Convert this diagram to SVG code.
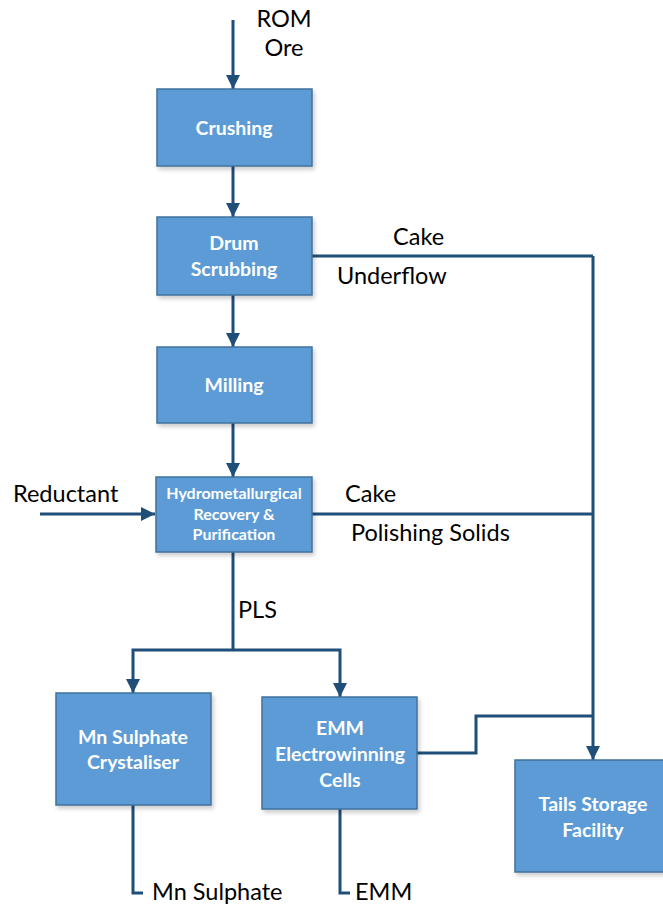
<svg xmlns="http://www.w3.org/2000/svg" width="663" height="907" viewBox="0 0 663 907">
<defs>
<marker id="ah" markerWidth="14" markerHeight="14" viewBox="0 0 14 14" refX="14" refY="7" orient="auto" markerUnits="userSpaceOnUse">
<path d="M0,0 L14,7 L0,14 Z" fill="#1F4E79"/>
</marker>
<filter id="sh" x="-10%" y="-10%" width="130%" height="130%">
<feDropShadow dx="2" dy="3" stdDeviation="2" flood-color="#000" flood-opacity="0.2"/>
</filter>
</defs>
<style>
.box{fill:#5B9BD5;stroke:#41719C;stroke-width:1.5;filter:url(#sh)}
.bt{font-family:Lato,"Open Sans",sans-serif;font-weight:bold;fill:#fff;text-anchor:middle;font-size:19.5px}
.bt.hs{font-size:16px}
.lb{font-family:Lato,"Open Sans",sans-serif;fill:#000;font-size:23.5px}
.c{fill:none;stroke:#1F4E79;stroke-width:3}
.a{marker-end:url(#ah)}
</style>
<g id="connectors">
<line class="c a" x1="233" y1="20" x2="233" y2="89"/>
<line class="c a" x1="233" y1="166" x2="233" y2="217"/>
<line class="c a" x1="233" y1="295" x2="233" y2="347"/>
<line class="c a" x1="233" y1="423" x2="233" y2="477"/>
<line class="c a" x1="40" y1="514" x2="155" y2="514"/>
<polyline class="c" points="312,256 593,256"/>
<polyline class="c" points="312,514 593,514"/>
<line class="c a" x1="593" y1="256" x2="593" y2="760"/>
<polyline class="c" points="233,552 233,650"/>
<polyline class="c a" points="233,650 133,650 133,693"/>
<polyline class="c a" points="233,650 340,650 340,697"/>
<polyline class="c" points="417,753 476,753 476,716 593,716"/>
<polyline class="c" points="133,805 133,893 143,893"/>
<polyline class="c" points="340,809 340,893 350,893"/>
</g>
<g id="crushing">
<rect class="box" x="157" y="89" width="155" height="77"/>
<text class="bt" x="234" y="135">Crushing</text>
</g>
<g id="drum">
<rect class="box" x="157" y="217" width="155" height="78"/>
<text class="bt" x="234" y="250">Drum</text>
<text class="bt" x="234" y="276">Scrubbing</text>
</g>
<g id="milling">
<rect class="box" x="157" y="347" width="155" height="76"/>
<text class="bt" x="234" y="392">Milling</text>
</g>
<g id="hydro">
<rect class="box" x="156" y="477" width="156" height="75"/>
<text class="bt hs" x="234" y="499">Hydrometallurgical</text>
<text class="bt hs" x="234" y="520">Recovery &amp;</text>
<text class="bt hs" x="234" y="540">Purification</text>
</g>
<g id="mnsulphate">
<rect class="box" x="56" y="693" width="155" height="112"/>
<text class="bt" x="133" y="744">Mn Sulphate</text>
<text class="bt" x="133" y="769">Crystaliser</text>
</g>
<g id="emm">
<rect class="box" x="262" y="697" width="155" height="112"/>
<text class="bt" x="340" y="735">EMM</text>
<text class="bt" x="340" y="761">Electrowinning</text>
<text class="bt" x="340" y="787">Cells</text>
</g>
<g id="tails">
<rect class="box" x="515" y="760" width="150" height="112"/>
<text class="bt" x="593" y="811">Tails Storage</text>
<text class="bt" x="593" y="837">Facility</text>
</g>
<g id="labels">
<text class="lb" x="284" y="27" text-anchor="middle">ROM</text>
<text class="lb" x="284" y="56" text-anchor="middle">Ore</text>
<text class="lb" x="393" y="245">Cake</text>
<text class="lb" x="337" y="284">Underflow</text>
<text class="lb" x="13" y="502">Reductant</text>
<text class="lb" x="345" y="502">Cake</text>
<text class="lb" x="351" y="541">Polishing Solids</text>
<text class="lb" x="238" y="618">PLS</text>
<text class="lb" x="152" y="900">Mn Sulphate</text>
<text class="lb" x="355" y="900">EMM</text>
</g>
</svg>
